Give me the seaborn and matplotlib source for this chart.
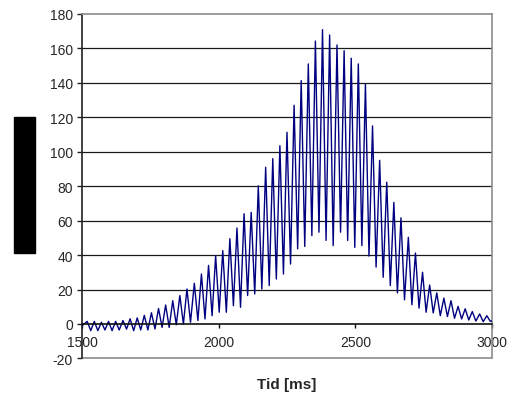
import matplotlib
matplotlib.use("Agg")
import matplotlib.pyplot as plt
import numpy as np
import pandas as pd
import seaborn as sns
from matplotlib.patches import Rectangle

# ---- data (crests and troughs of the signal) ----
peak_time = [1519, 1545, 1571, 1597, 1623, 1650, 1676, 1702, 1728, 1754,
             1780, 1806, 1832, 1858, 1884, 1911, 1937, 1963, 1989, 2015,
             2041, 2067, 2093, 2119, 2145, 2172, 2198, 2224, 2250, 2276,
             2302, 2328, 2354, 2380, 2406, 2433, 2459, 2485, 2511, 2537,
             2563, 2589, 2615, 2641, 2667, 2694, 2720, 2746, 2772, 2798,
             2824, 2850, 2876, 2902, 2928, 2955, 2981]
peak_value = [1.5, 1.5, 1.0, 1.5, 1.5, 2.0, 3.0, 3.5, 5.0, 6.5,
              9.0, 11.0, 13.5, 16.5, 20.3, 23.6, 29.0, 34.0, 39.5, 42.6,
              49.5, 55.7, 64.0, 64.8, 80.2, 91.0, 96.0, 103.5, 111.3, 127.0,
              141.3, 151.0, 164.3, 170.9, 167.8, 162.0, 158.7, 154.3, 151.0, 139.4,
              115.0, 95.0, 82.3, 70.6, 61.6, 50.3, 41.2, 30.0, 22.6, 18.0,
              15.0, 13.5, 10.2, 8.8, 7.2, 5.8, 4.8]
trough_time = [1500, 1532, 1558, 1584, 1610, 1636, 1663, 1689, 1715, 1741, 1767,
               1793, 1819, 1845, 1871, 1897, 1924, 1950, 1976, 2002, 2028,
               2054, 2080, 2106, 2132, 2158, 2185, 2211, 2237, 2263, 2289,
               2315, 2341, 2367, 2393, 2419, 2446, 2472, 2498, 2524, 2550,
               2576, 2602, 2628, 2654, 2680, 2707, 2733, 2759, 2785, 2811,
               2837, 2863, 2889, 2915, 2941, 2968, 2994, 3000]
trough_value = [-1.0, -3.9, -3.9, -3.5, -3.9, -3.5, -3.0, -3.9, -3.5, -3.5, -2.9,
                -2.0, -2.0, -0.5, 0.0, 1.0, 2.0, 2.9, 4.8, 6.8, 6.8,
                10.6, 9.7, 16.5, 17.4, 20.3, 22.3, 26.1, 29.0, 34.8, 43.6,
                45.0, 51.3, 53.3, 48.5, 45.5, 53.3, 48.5, 44.5, 45.5, 39.4,
                33.0, 27.1, 22.3, 18.0, 14.0, 11.1, 9.2, 6.8, 6.4, 4.8,
                4.3, 3.3, 2.9, 2.3, 1.7, 1.3, 1.5, 1.8]

y_ticks = [-20, 0, 20, 40, 60, 80, 100, 120, 140, 160, 180]
x_ticks = [1500, 2000, 2500, 3000]
x_label = "Tid [ms]"

df = pd.DataFrame({
    "t": peak_time + trough_time,
    "v": peak_value + trough_value,
}).sort_values("t")

sns.set_style("white")
plt.rcParams["font.family"] = ["Liberation Sans", "DejaVu Sans"]

fig = plt.figure(figsize=(5.17, 4.02), dpi=100)
ax = fig.add_axes([0.1586, 0.106, 0.793, 0.8567])

# horizontal gridlines (inner ticks only)
for yv in y_ticks[2:-1]:
    ax.axhline(yv, color="#1a1a1a", lw=0.9, zorder=1)

sns.lineplot(data=df, x="t", y="v", ax=ax, color="#000080", lw=1.0,
             estimator=None, sort=True, zorder=3)

ax.set_xlim(x_ticks[0], x_ticks[-1])
ax.set_ylim(y_ticks[0], y_ticks[-1])
ax.set_xticks(x_ticks)
ax.set_yticks(y_ticks)
ax.set_xticklabels([str(v) for v in x_ticks], fontsize=10)
ax.set_yticklabels([str(v) for v in y_ticks], fontsize=10)
ax.set_ylabel("")

# spines: left black, x axis at zero black, frame grey
for s in ["top", "right"]:
    ax.spines[s].set_visible(True)
    ax.spines[s].set_color("#8c8c8c")
    ax.spines[s].set_linewidth(1.2)
ax.spines["left"].set_color("#222222")
ax.spines["left"].set_linewidth(1.2)
ax.spines["bottom"].set_position(("data", 0))
ax.spines["bottom"].set_color("#111111")
ax.spines["bottom"].set_linewidth(1.2)
ax.spines["bottom"].set_zorder(4)
ax.axhline(y_ticks[0], color="#8c8c8c", lw=1.2, clip_on=False, zorder=2)

ax.tick_params(axis="y", direction="out", length=3.5, width=1, color="#222222",
               pad=3, left=True)
ax.tick_params(axis="x", direction="out", length=3, width=1, color="#111111",
               pad=5, bottom=True)

ax.set_xlabel(x_label, fontsize=11, fontweight="bold")
ax.xaxis.set_label_coords(0.5, -0.074)
ax.xaxis.label.set_va("center")

# redaction block on the left (as in the reference)
fig.patches.append(Rectangle((0.0271, 0.3682), 0.0406, 0.3383,
                             transform=fig.transFigure, color="black"))

fig.savefig("out.png", dpi=100)
